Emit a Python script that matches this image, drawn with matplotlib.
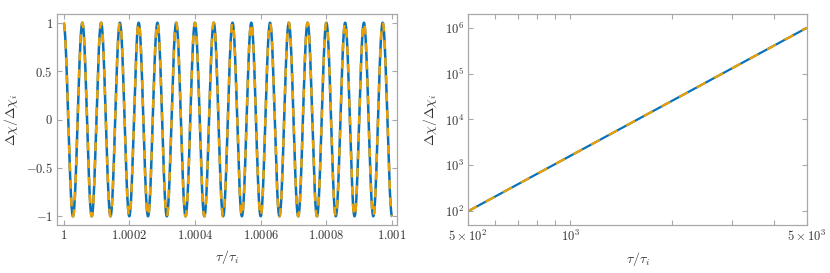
import numpy as np
import matplotlib
matplotlib.use('Agg')
import matplotlib.pyplot as plt
from matplotlib.ticker import FixedLocator, FixedFormatter, NullFormatter

plt.rcParams['mathtext.fontset'] = 'cm'
plt.rcParams['font.family'] = ['DejaVu Serif']

# left panel: oscillation
tau_lin = [1.0, 1.001]          # x range of the curve
n_cycles = 17.5                 # counted peaks: starts at +1, ends at -1
lin_xticks = [1.0, 1.0002, 1.0004, 1.0006, 1.0008, 1.001]
lin_xlabels = ['$1$', '$1.0002$', '$1.0004$', '$1.0006$', '$1.0008$', '$1.001$']
lin_yticks = [-1, -0.5, 0, 0.5, 1]
lin_ylabels = ['$-1$', '$-0.5$', '$0$', '$0.5$', '$1$']

# right panel: straight power law on log-log axes (end points)
tau_log = [500, 5000]
dchi_log = [1e2, 1e6]
log_xticks = [500, 1000, 5000]
log_xlabels = [r'$5\times10^2$', r'$10^3$', r'$5\times10^3$']
log_xminor = [600, 700, 800, 900, 2000, 3000, 4000]
log_yticks = [1e2, 1e3, 1e4, 1e5, 1e6]
log_ylabels = [r'$10^2$', r'$10^3$', r'$10^4$', r'$10^5$', r'$10^6$']

blue = '#0a72b8'
orange = '#eba000'
frame = '#a8a8a8'
txt = '#333333'

fig = plt.figure(figsize=(8.3, 2.73), dpi=100)
ax1 = fig.add_axes([57 / 830, 48 / 273, 340 / 830, 211 / 273])
ax2 = fig.add_axes([468 / 830, 48 / 273, 339 / 830, 211 / 273])

t = np.linspace(tau_lin[0], tau_lin[1], 4000)
y = np.cos(2 * np.pi * n_cycles * (t - tau_lin[0]) / (tau_lin[1] - tau_lin[0]))
ax1.plot(t, y, color=blue, lw=1.8, solid_capstyle='butt')
ax1.plot(t, y, color=orange, lw=1.8, dashes=(3.5, 3.5))
ax1.set_xlim(0.99998, 1.001015)
ax1.set_ylim(-1.09, 1.09)
ax1.xaxis.set_major_locator(FixedLocator(lin_xticks))
ax1.xaxis.set_major_formatter(FixedFormatter(lin_xlabels))
ax1.yaxis.set_major_locator(FixedLocator(lin_yticks))
ax1.yaxis.set_major_formatter(FixedFormatter(lin_ylabels))

ax2.loglog(tau_log, dchi_log, color=blue, lw=1.6, solid_capstyle='butt')
ax2.loglog(tau_log, dchi_log, color=orange, lw=1.6, dashes=(4.5, 4.5))
ax2.set_xlim(500, 5000)
ax2.set_ylim(10 ** 1.7, 10 ** 6.3)
ax2.xaxis.set_major_locator(FixedLocator(log_xticks))
ax2.xaxis.set_major_formatter(FixedFormatter(log_xlabels))
ax2.xaxis.set_minor_locator(FixedLocator(log_xminor))
ax2.xaxis.set_minor_formatter(NullFormatter())
ax2.yaxis.set_major_locator(FixedLocator(log_yticks))
ax2.yaxis.set_major_formatter(FixedFormatter(log_ylabels))
ax2.yaxis.set_minor_locator(FixedLocator([]))

for ax in (ax1, ax2):
    for s in ax.spines.values():
        s.set_color(frame)
        s.set_linewidth(0.9)
    ax.tick_params(which='both', direction='in', top=True, right=True,
                   color=frame, labelcolor=txt, labelsize=9, pad=3)
    ax.tick_params(which='both', length=3.5, width=0.8)
    ax.set_xlabel(r'$\tau/\tau_i$', fontsize=10, color=txt, labelpad=4)
    ax.set_ylabel(r'$\Delta\chi/\Delta\chi_i$', fontsize=10, color=txt, labelpad=4)

fig.savefig('out.png', dpi=100)
